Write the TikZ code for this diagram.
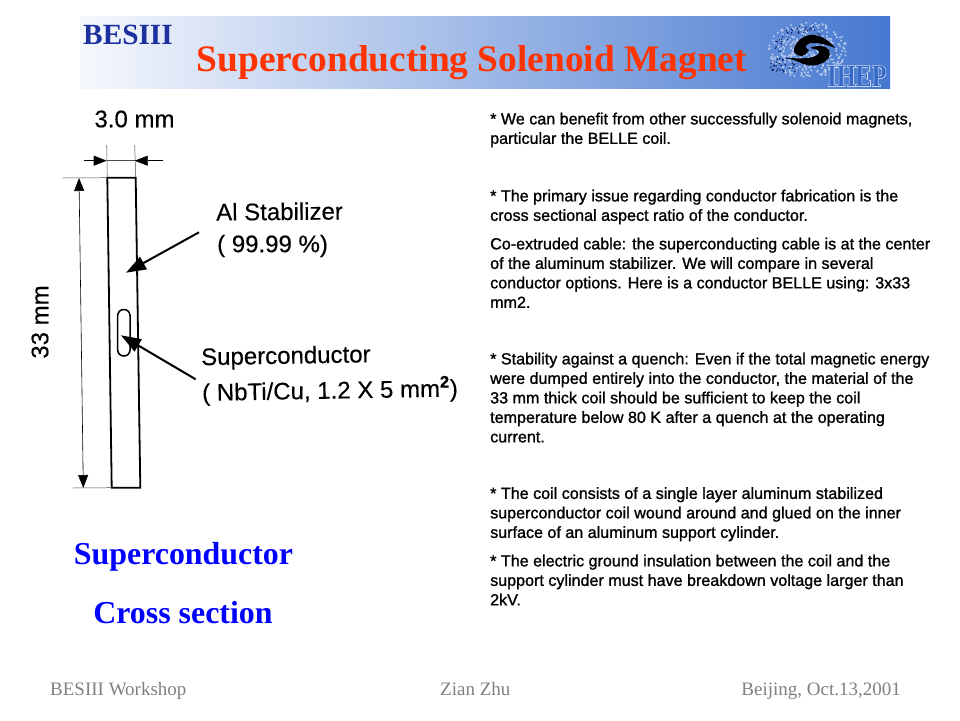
\documentclass[tikz,border=0pt]{standalone}
\usepackage{fontspec}
\setmainfont{Liberation Serif}
\setsansfont{Liberation Sans}
\newfontfamily\logofont[UprightFont={* Bold},FakeBold=3]{Liberation Serif}
\newfontfamily\bodyfont[FakeBold=1.2]{Liberation Sans}
\newfontfamily\figfont[FakeBold=0.3]{Liberation Sans}
\usetikzlibrary{arrows.meta}
\definecolor{bannerblue}{RGB}{70,120,208}
\definecolor{ihepblue}{RGB}{55,105,200}
\definecolor{titlered}{RGB}{255,51,0}
\definecolor{besblue}{RGB}{28,48,160}
\definecolor{swirlblue}{RGB}{16,32,96}
\definecolor{footgray}{RGB}{128,128,128}
\begin{document}
\begin{tikzpicture}[x=1pt,y=-1pt]
\useasboundingbox (0,0) rectangle (960,720);

\tikzstyle{bodytext}=[anchor=north west,inner sep=0pt,align=left,font=\fontsize{16.1}{19.5}\selectfont\bodyfont]
\tikzstyle{figtext}=[anchor=west,inner sep=0pt,font=\fontsize{24}{28}\selectfont\figfont]
\tikzstyle{bluetext}=[inner sep=0pt,text=blue,font=\fontsize{31.9}{36}\selectfont\bfseries]
\tikzstyle{foottext}=[inner sep=0pt,anchor=base west,text=footgray,font=\fontsize{19}{22}\selectfont]
\tikzstyle{dimline}=[line width=0.5pt,black!70]
\tikzstyle{dimtip}=[-{Triangle[length=13pt,width=10pt]},line width=0.6pt]
\tikzstyle{bigarrow}=[-{Triangle[length=20pt,width=14pt]},line width=2pt]

% banner
\fill[left color=white!95!bannerblue,right color=bannerblue] (80,16) rectangle (890,88);
\node[inner sep=0pt,text=besblue,font=\fontsize{29.3}{32}\selectfont\bfseries] (bes) at (128,35) {BESIII};
\node[inner sep=0pt,text=titlered,font=\fontsize{37.4}{40}\selectfont\bfseries] (title) at (472,63) {Superconducting Solenoid Magnet};

% logo
\pgfmathsetseed{7}
\foreach \i in {1,...,320}{
  \pgfmathsetmacro{\a}{rnd*360}
  \pgfmathsetmacro{\r}{sqrt(rnd)}
  \fill[white!60!bannerblue] ({808+40*\r*cos(\a)},{50+28*\r*sin(\a)}) circle (1.1pt);
}
\foreach \i in {1,...,35}{
  \pgfmathsetmacro{\a}{170+rnd*130}
  \pgfmathsetmacro{\r}{0.72+0.28*rnd}
  \fill[swirlblue] ({808+36*\r*cos(\a)},{50+24*\r*sin(\a)}) circle (0.8pt);
}
\foreach \i in {1,...,30}{
  \fill[swirlblue] ({767+28*rnd},{58+14*rnd}) circle (0.9pt);
}
\fill[black] (794,48) .. controls (796,42) and (802,36) .. (810,35)
  .. controls (820,34) and (830,41) .. (835,48)
  .. controls (828,45) and (820,43) .. (814,43)
  .. controls (806,43) and (803,47) .. (809,50)
  .. controls (806,54) and (804,56) .. (802,56)
  .. controls (797,56) and (793,53) .. (794,48) -- cycle;
\fill[black] (810,48) .. controls (816,45) and (826,45) .. (829,50)
  .. controls (832,56) and (827,62) .. (820,64)
  .. controls (812,67) and (804,65) .. (799,62)
  .. controls (794,60) and (790,59) .. (787,58)
  .. controls (794,58) and (800,59) .. (806,58)
  .. controls (814,58) and (821,54) .. (819,51)
  .. controls (817,49) and (813,49) .. (810,48) -- cycle;
\node[inner sep=0pt,xscale=0.78,text=white,font=\fontsize{31}{33}\selectfont\logofont] (ihepback) at (857,76) {IHEP};
\node[inner sep=0pt,xscale=0.78,text=ihepblue,font=\fontsize{31}{33}\selectfont\bfseries] (ihep) at (857,76) {IHEP};

% conductor
\coordinate (TL) at (107.3,177.7);
\coordinate (TR) at (135.7,177.7);
\coordinate (BR) at (140.3,487.7);
\coordinate (BL) at (111.7,487.7);
\draw[line width=1.8pt,line join=miter] (TL) -- (TR) -- (BR) -- (BL) -- cycle;
\draw[line width=1.5pt,rounded corners=6pt] (117.7,309.5) rectangle (130,356);

% dimensions
\coordinate (W1) at (106.7,145);
\coordinate (W2) at (134.7,145);
\coordinate (W3) at (106.7,160.7);
\coordinate (W4) at (134.7,160.7);
\coordinate (W5) at (84,160.7);
\coordinate (W6) at (163,160.7);
\draw[dimline] (W1) -- (TL);
\draw[dimline] (W2) -- (TR);
\draw[dimline] (W3) -- (W4);
\draw[dimtip] (W5) -- (W3);
\draw[dimtip] (W6) -- (W4);

\coordinate (H1) at (62.7,178);
\coordinate (H2) at (72.7,488);
\coordinate (H3) at (79,178);
\coordinate (H4) at (83.3,488);
\coordinate (H5) at (81.2,333);
\draw[dimline] (H1) -- (TL);
\draw[dimline] (H2) -- (BL);
\draw[dimtip] (H5) -- (H3);
\draw[dimtip] (H5) -- (H4);

% pointers
\coordinate (A1) at (199,232.3);
\coordinate (A2) at (126,272.7);
\coordinate (S1) at (195.7,379.3);
\coordinate (S2) at (121,335.3);
\draw[bigarrow] (A1) -- (A2);
\draw[bigarrow] (S1) -- (S2);

% figure labels
\node[figtext,anchor=center] (width) at (134.5,119) {3.0 mm};
\node[figtext,anchor=center,rotate=90] (height) at (40,322) {33 mm};
\node[figtext,rotate=0.5] (alone) at (216,212) {Al Stabilizer};
\node[figtext] (altwo) at (217,246) {( 99.99 \%)};
\node[figtext,rotate=1] (scone) at (201,359) {Superconductor};
\node[figtext,rotate=1] (sctwo) at (202,393) {( NbTi/Cu, 1.2 X 5 mm\textsuperscript{\bfseries 2})};

\node[bluetext] (scname) at (183.5,557) {Superconductor};
\node[bluetext] (csname) at (183,613) {Cross section};

% right column
\node[bodytext] (p1) at (490,112.5) {* We can benefit from other successfully solenoid magnets,\\particular the BELLE coil.};
\node[bodytext] (p2) at (490,189.5) {* The primary issue regarding conductor fabrication is the\\cross sectional aspect ratio of the conductor.};
\node[bodytext] (p3) at (490,237.5) {Co-extruded cable: the superconducting cable is at the center\\of the aluminum stabilizer. We will compare in several\\conductor options. Here is a conductor BELLE using: 3x33\\mm2.};
\node[bodytext] (p4) at (490,352.5) {* Stability against a quench: Even if the total magnetic energy\\were dumped entirely into the conductor, the material of the\\33 mm thick coil should be sufficient to keep the coil\\temperature below 80 K after a quench at the operating\\current.};
\node[bodytext] (p5) at (490,487) {* The coil consists of a single layer aluminum stabilized\\superconductor coil wound around and glued on the inner\\surface of an aluminum support cylinder.};
\node[bodytext] (p6) at (490,554.5) {* The electric ground insulation between the coil and the\\support cylinder must have breakdown voltage larger than\\2kV.};

% footer
\node[foottext] (f1) at (50,695) {BESIII Workshop};
\node[foottext] (f2) at (440,695) {Zian Zhu};
\node[foottext,anchor=base east] (f3) at (901,695) {Beijing, Oct.13,2001};
\end{tikzpicture}
\end{document}
